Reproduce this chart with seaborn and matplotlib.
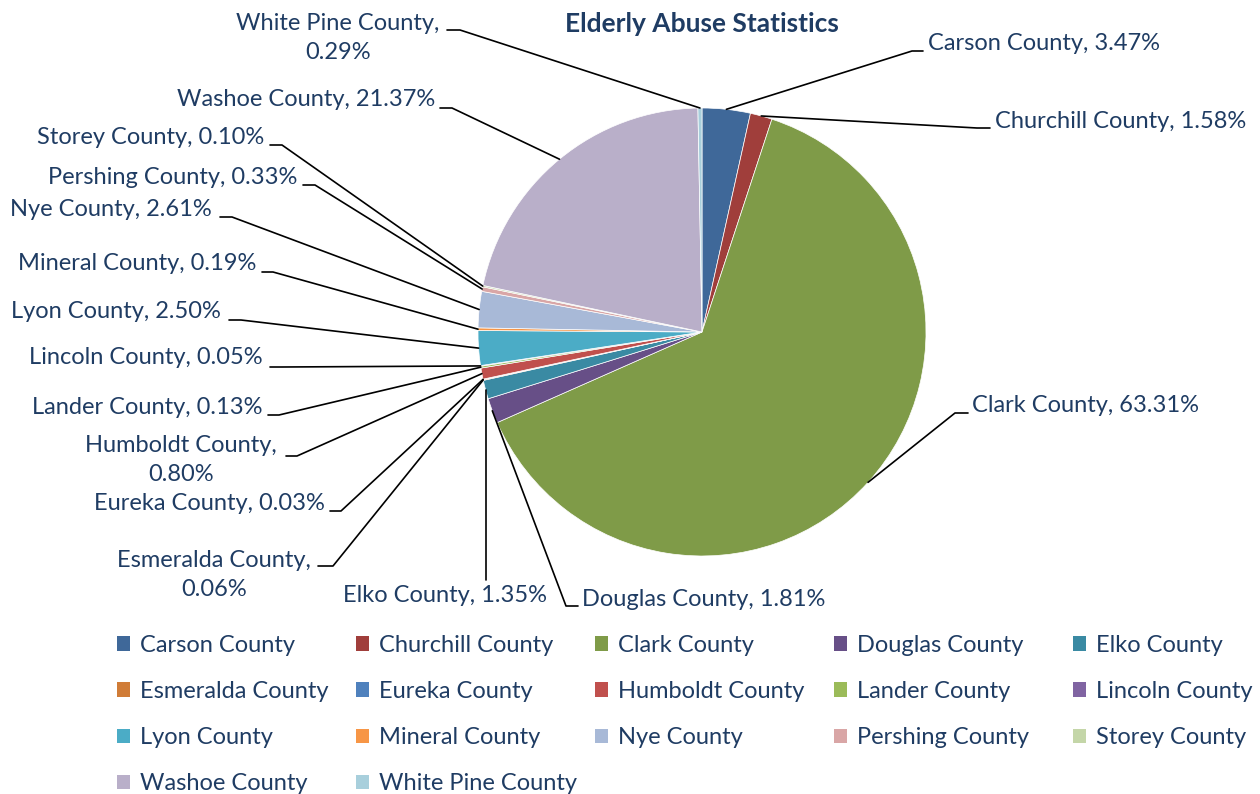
import numpy as np
import matplotlib
matplotlib.use("Agg")
import matplotlib.pyplot as plt
from matplotlib.patches import Patch
import seaborn as sns

# --- data ---
counties = ["Carson County", "Churchill County", "Clark County", "Douglas County",
            "Elko County", "Esmeralda County", "Eureka County", "Humboldt County",
            "Lander County", "Lincoln County", "Lyon County", "Mineral County",
            "Nye County", "Pershing County", "Storey County", "Washoe County",
            "White Pine County"]
shares = [3.47, 1.58, 63.31, 1.81, 1.35, 0.06, 0.03, 0.80, 0.13, 0.05,
          2.50, 0.19, 2.61, 0.33, 0.10, 21.37, 0.29]
colors = ["#3f6899", "#a03e3b", "#7f9b48", "#674f87", "#3a8aa3", "#d07c37",
          "#4f81bd", "#c0504d", "#9bbb59", "#8064a2", "#4bacc6", "#f79646",
          "#a8b9d7", "#d9a6a6", "#c4d6a8", "#b9afc9", "#a8cfdc"]
title = "Elderly Abuse Statistics"

TEXT = "#1f3c63"
FS = 17

# label layout in pixels: text x, text y, ha, start of leader, elbow of leader
label_layout = {
    "Carson County":     (928, 43, "left", (923, 51), (912, 51)),
    "Churchill County":  (995, 121, "left", (990, 128), (977, 128)),
    "Clark County":      (972, 405, "left", (968, 413), (955, 413)),
    "Douglas County":    (582, 599, "left", (578, 606), (566, 606)),
    "Elko County":       (445, 595, "center", None, None),
    "Esmeralda County":  (214, 575, "center", (318, 566), (333, 566)),
    "Eureka County":     (325, 503, "right", (330, 511), (341, 511)),
    "Humboldt County":   (181, 460, "center", (286, 456), (297, 456)),
    "Lander County":     (263, 408, "right", (268, 415), (279, 415)),
    "Lincoln County":    (263, 358, "right", (270, 367), (282, 367)),
    "Lyon County":       (221, 312, "right", (229, 320), (241, 320)),
    "Mineral County":    (256, 264, "right", (262, 272), (273, 272)),
    "Nye County":        (212, 210, "right", (220, 217), (232, 217)),
    "Pershing County":   (297, 178, "right", (303, 185), (315, 185)),
    "Storey County":     (264, 137, "right", (270, 145), (282, 145)),
    "Washoe County":     (435, 100, "right", (440, 108), (452, 108)),
    "White Pine County": (338, 38, "center", (447, 30), (460, 30)),
}
two_line = {"Esmeralda County", "Humboldt County", "White Pine County"}

sns.set_theme(style="white")
plt.rcParams["font.family"] = ["Lato", "DejaVu Sans"]

W, H = 1260, 794
CX, CY, R = 702, 332, 224

fig = plt.figure(figsize=(W / 100, H / 100), dpi=100)
ax = fig.add_axes([0, 0, 1, 1])


def P(x, y):
    return (x - CX) / R, (CY - y) / R


wedges, _ = ax.pie(shares, colors=colors, startangle=90, counterclock=False,
                   radius=1.0, wedgeprops=dict(edgecolor="white", linewidth=0.5))

for w, name, val in zip(wedges, counties, shares):
    tx, ty, ha, start, elbow = label_layout[name]
    sep = "\n" if name in two_line else " "
    txt = f"{name},{sep}{val:.2f}%"
    x, y = P(tx, ty)
    ax.text(x, y, txt, ha=ha, va="center", fontsize=FS, color=TEXT,
            linespacing=1.5, multialignment="center")
    mid = np.deg2rad((w.theta1 + w.theta2) / 2)
    wx, wy = np.cos(mid), np.sin(mid)
    if start is None:
        # label below the slice: straight drop to its top
        ex, ey = P(CX + wx * R, 580)
        ax.plot([wx, ex], [wy, ey], color="black", lw=1.2)
    else:
        sx, sy = P(*start)
        bx, by = P(*elbow)
        ax.plot([wx, bx, sx], [wy, by, sy], color="black", lw=1.2)

ax.set_xlim(-CX / R, (W - CX) / R)
ax.set_ylim(-(H - CY) / R, CY / R)
ax.axis("off")

fig.text(CX / W, 1 - 24 / H, title, ha="center", va="center",
         fontsize=19, fontweight="bold", color=TEXT)

# legend: one column of entries per legend, laid out row-wise like the original
ncol = 5
for c in range(ncol):
    idx = list(range(c, len(counties), ncol))
    handles = [Patch(facecolor=colors[i], edgecolor="none") for i in idx]
    names = [counties[i] for i in idx]
    leg = ax.legend(handles, names, loc="upper left",
                    bbox_to_anchor=((117 + 239 * c) / W, 1 - 635 / H),
                    bbox_transform=fig.transFigure, frameon=False,
                    fontsize=FS, handlelength=0.56, handleheight=0.56,
                    handletextpad=0.42, labelspacing=1.06, borderpad=0,
                    borderaxespad=0)
    for t in leg.get_texts():
        t.set_color(TEXT)
    if c < ncol - 1:
        ax.add_artist(leg)

fig.savefig("out.png", dpi=100)
